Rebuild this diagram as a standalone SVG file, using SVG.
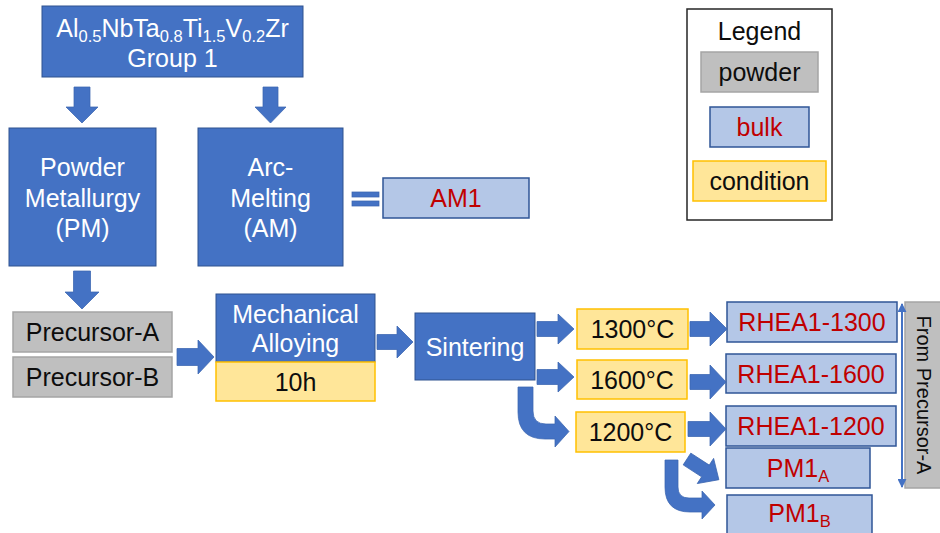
<svg xmlns="http://www.w3.org/2000/svg" width="940" height="533" viewBox="0 0 940 533">
<style>
text{font-family:"Liberation Sans",Arial,sans-serif;font-size:25px;text-anchor:middle}
.w{fill:#ffffff}
.k{fill:#0d0d0d}
.r{fill:#c00000}
.proc{fill:#4472c4;stroke:#2f528f;stroke-width:1}
.bulk{fill:#b4c7e7;stroke:#2f5597;stroke-width:1.5}
.powder{fill:#bfbfbf;stroke:#a5a5a5;stroke-width:1.5}
.cond{fill:#ffe699;stroke:#ffc000;stroke-width:1.5}
.arr{fill:#4472c4;stroke:#3b65b0;stroke-width:0.75}
.sub{font-size:16.5px}
</style>
<defs>
<marker id="ah" viewBox="0 0 10 10" refX="9" refY="5" markerWidth="4.5" markerHeight="4.5" orient="auto-start-reverse">
<path d="M0,0 L10,5 L0,10 Z" fill="#4472c4"/>
</marker>
</defs>
<rect width="940" height="533" fill="#ffffff"/>

<g id="alloy">
<rect class="proc" x="42" y="6" width="261" height="71"/>
<text class="w" x="172.5" y="37">Al<tspan class="sub" dy="5">0.5</tspan><tspan dy="-5">NbTa</tspan><tspan class="sub" dy="5">0.8</tspan><tspan dy="-5">Ti</tspan><tspan class="sub" dy="5">1.5</tspan><tspan dy="-5">V</tspan><tspan class="sub" dy="5">0.2</tspan><tspan dy="-5">Zr</tspan></text>
<text class="w" x="172.5" y="67">Group 1</text>
</g>

<g id="pm">
<rect class="proc" x="9" y="128" width="147" height="138"/>
<text class="w" x="82.5" y="176">Powder</text>
<text class="w" x="82.5" y="207">Metallurgy</text>
<text class="w" x="82.5" y="237">(PM)</text>
</g>

<g id="am">
<rect class="proc" x="198" y="128" width="145" height="138"/>
<text class="w" x="270.5" y="176">Arc-</text>
<text class="w" x="270.5" y="207">Melting</text>
<text class="w" x="270.5" y="237">(AM)</text>
</g>

<g id="am1">
<rect class="bulk" x="383" y="178" width="146" height="40"/>
<text class="r" x="456" y="207">AM1</text>
</g>

<g id="precursor-a">
<rect class="powder" x="13" y="312" width="159" height="40"/>
<text class="k" x="92.5" y="341">Precursor-A</text>
</g>

<g id="precursor-b">
<rect class="powder" x="13" y="357" width="159" height="40"/>
<text class="k" x="92.5" y="386">Precursor-B</text>
</g>

<g id="mechanical-alloying">
<rect class="proc" x="216" y="294" width="159" height="68"/>
<text class="w" x="295.5" y="323">Mechanical</text>
<text class="w" x="295.5" y="352">Alloying</text>
<rect class="cond" x="216" y="362" width="159" height="39"/>
<text class="k" x="295.5" y="390.5">10h</text>
</g>

<g id="sintering">
<rect class="proc" x="415" y="313" width="120" height="67"/>
<text class="w" x="475" y="355.5">Sintering</text>
</g>

<g id="t1300">
<rect class="cond" x="577" y="309" width="111" height="40"/>
<text class="k" x="632.5" y="338">1300°C</text>
</g>
<g id="t1600">
<rect class="cond" x="577" y="360" width="110" height="39"/>
<text class="k" x="632" y="389">1600°C</text>
</g>
<g id="t1200">
<rect class="cond" x="576" y="412" width="109" height="40"/>
<text class="k" x="630.5" y="441">1200°C</text>
</g>

<g id="rhea1-1300">
<rect class="bulk" x="727" y="302" width="170" height="40"/>
<text class="r" x="812" y="331">RHEA1-1300</text>
</g>
<g id="rhea1-1600">
<rect class="bulk" x="726" y="354" width="170" height="39"/>
<text class="r" x="811" y="382.5">RHEA1-1600</text>
</g>
<g id="rhea1-1200">
<rect class="bulk" x="726" y="406" width="170" height="40"/>
<text class="r" x="811" y="435">RHEA1-1200</text>
</g>
<g id="pm1a">
<rect class="bulk" x="726" y="448" width="144" height="40"/>
<text class="r" x="798" y="477">PM1<tspan class="sub" dy="5">A</tspan></text>
</g>
<g id="pm1b">
<rect class="bulk" x="727" y="495" width="145" height="50"/>
<text class="r" x="799.5" y="522">PM1<tspan class="sub" dy="5">B</tspan></text>
</g>

<g id="from-precursor-a">
<rect class="powder" x="905" y="302" width="40" height="186"/>
<text class="k" style="font-size:20px" transform="translate(924,395) rotate(90)" y="7">From Precursor-A</text>
</g>

<g id="legend">
<rect x="687" y="9" width="145" height="211" fill="#ffffff" stroke="#262626" stroke-width="1.5"/>
<text class="k" x="759.5" y="40">Legend</text>
<rect class="powder" x="701" y="52" width="117" height="40"/>
<text class="k" x="759.5" y="81">powder</text>
<rect class="bulk" x="710" y="107" width="99" height="40"/>
<text class="r" x="759.5" y="136">bulk</text>
<rect class="cond" x="693" y="161" width="133" height="40"/>
<text class="k" x="759.5" y="190">condition</text>
</g>

<g id="connectors">
<!-- down arrows -->
<path class="arr" d="M74,87 H90 V107 H98 L82,123 L66,107 H74 Z"/>
<path class="arr" d="M263,87 H278 V107 H286 L270.5,123 L255,107 H263 Z"/>
<path class="arr" d="M73.5,271 H90.5 V292 H99 L82,309 L65,292 H73.5 Z"/>
<!-- equals -->
<rect class="arr" x="352" y="192" width="27" height="5"/>
<rect class="arr" x="352" y="201" width="27" height="5"/>
<!-- right arrows -->
<path class="arr" d="M177,348.5 H198 V340 L214,357 L198,374 V365.5 H177 Z"/>
<path class="arr" d="M377,334.5 H397 V326 L413,342 L397,358 V349.5 H377 Z"/>
<path class="arr" d="M537,321.5 H558 V314 L574,329 L558,344 V336.5 H537 Z"/>
<path class="arr" d="M537,369.5 H558 V362 L574,377 L558,392 V384.5 H537 Z"/>
<path class="arr" d="M690,321.5 H710 V312 L727,329 L710,346 V336.5 H690 Z"/>
<path class="arr" d="M690,374.5 H710 V365 L726,382 L710,399 V389.5 H690 Z"/>
<path class="arr" d="M688,421.5 H710 V412 L726,429 L710,446 V436.5 H688 Z"/>
<!-- bent arrows -->
<path class="arr" d="M518,387 H533 V411 Q533,424 546,424 H555 V416 L569,431.5 L555,447 V439 H545 Q518,439 518,412 Z"/>
<path class="arr" d="M665,460 H678 V487 Q678,498 689,498 H702 V491 L715,505 L702,519 V512 H690 Q665,512 665,487 Z"/>
<!-- diagonal arrow -->
<path class="arr" transform="translate(687,459) rotate(33)" d="M0,-7 H22 V-15 L38,0 L22,15 V7 H0 Z"/>
<!-- double-headed arrow -->
<line x1="902" y1="304" x2="902" y2="487" stroke="#4472c4" stroke-width="2" marker-start="url(#ah)" marker-end="url(#ah)"/>
</g>
</svg>
